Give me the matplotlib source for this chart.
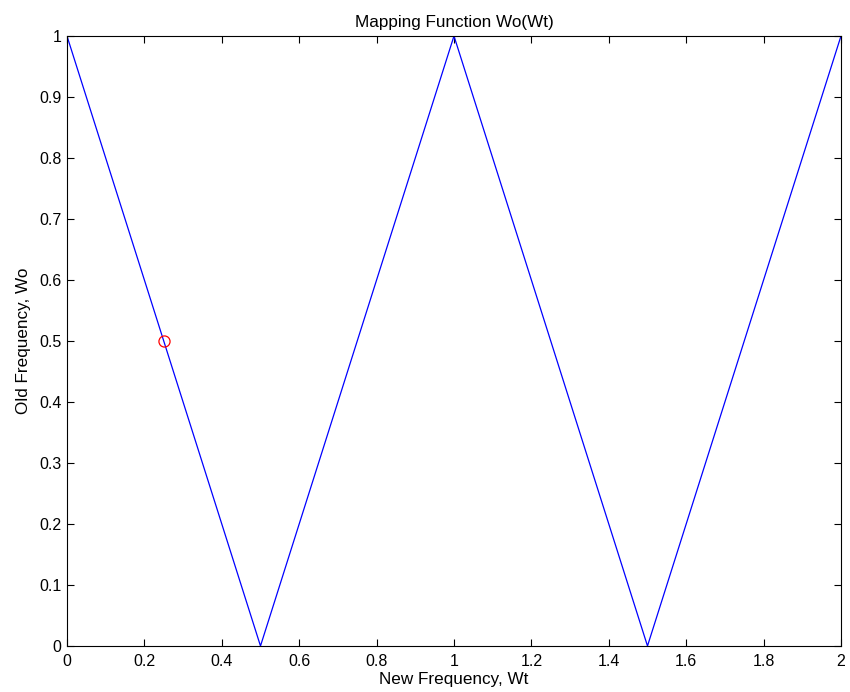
import matplotlib
matplotlib.use('Agg')
import matplotlib.pyplot as plt

# mapping function breakpoints
wt = [0, 0.5, 1, 1.5, 2]
wo = [1, 0, 1, 0, 1]
# marked point
pt_x = [0.25]
pt_y = [0.5]

xticks = [0, 0.2, 0.4, 0.6, 0.8, 1, 1.2, 1.4, 1.6, 1.8, 2]
yticks = [0, 0.1, 0.2, 0.3, 0.4, 0.5, 0.6, 0.7, 0.8, 0.9, 1]

plt.rcParams['font.family'] = ['Liberation Sans', 'DejaVu Sans']
plt.rcParams['font.size'] = 11.5

fig = plt.figure(figsize=(8.5, 6.92), dpi=100)
ax = fig.add_axes([0.0788, 0.0665, 0.9106, 0.8815])

ax.plot(wt, wo, color='#0000ff', lw=0.9)
ax.plot(pt_x, pt_y, 'o', mfc='none', mec='#ff0000', ms=8, mew=0.9)

ax.set_xlim(0, 2)
ax.set_ylim(0, 1)
ax.set_xticks(xticks)
ax.set_xticklabels([f'{v:g}' for v in xticks])
ax.set_yticks(yticks)
ax.set_yticklabels([f'{v:g}' for v in yticks])
ax.tick_params(direction='in', top=True, right=True, length=5, width=0.8)
ax.tick_params(axis='x', pad=6)
ax.tick_params(axis='y', pad=4)
for s in ax.spines.values():
    s.set_linewidth(0.8)

ax.set_title('Mapping Function Wo(Wt)', fontsize=12.3, pad=6.5)
ax.set_xlabel('New Frequency, Wt', fontsize=12.3, labelpad=2)
ax.set_ylabel('Old Frequency, Wo', fontsize=12.3, labelpad=6)

fig.savefig('out.png', dpi=100)
